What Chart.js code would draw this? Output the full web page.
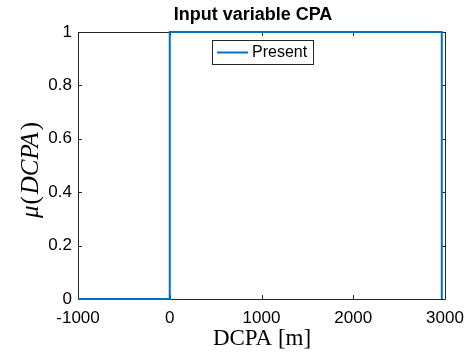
<!DOCTYPE html>
<html>
<head>
<meta charset="utf-8">
<script src="https://cdn.jsdelivr.net/npm/chart.js@4/dist/chart.umd.min.js"></script>
<style>
  html, body { margin: 0; padding: 0; background: #fff; }
  #wrap { width: 474px; height: 359px; }
</style>
</head>
<body>
<div id="wrap"><canvas id="chart" width="474" height="359"></canvas></div>
<script>
// membership function "Present" for DCPA
var dcpa = [-1000, 0, 0, 2965, 2965];
var mu = [0, 0, 1, 1, 0];
var xTicks = [-1000, 0, 1000, 2000, 3000];
var yTicks = [0, 0.2, 0.4, 0.6, 0.8, 1];
var seriesName = 'Present';
var titleText = 'Input variable CPA';
var lineColor = '#0072BD';

var points = [];
for (var i = 0; i < dcpa.length; i++) {
  points.push({ x: dcpa[i], y: mu[i] });
}

var serif = '"Liberation Serif", "DejaVu Serif", serif';
var sans = '"Liberation Sans", Arial, sans-serif';

// MATLAB style box + inward ticks, drawn under the line
var matlabAxes = {
  id: 'matlabAxes',
  beforeDatasetsDraw: function (chart) {
    var ctx = chart.ctx;
    var a = chart.chartArea;
    var xs = chart.scales.x, ys = chart.scales.y;
    ctx.save();
    ctx.strokeStyle = '#262626';
    ctx.lineWidth = 1;
    ctx.beginPath();
    ctx.rect(Math.round(a.left) + 0.5, Math.round(a.top) + 0.5,
             Math.round(a.right - a.left), Math.round(a.bottom - a.top));
    ctx.stroke();
    ctx.beginPath();
    xTicks.forEach(function (v) {
      var px = Math.round(xs.getPixelForValue(v)) + 0.5;
      ctx.moveTo(px, a.bottom); ctx.lineTo(px, a.bottom - 4);
      ctx.moveTo(px, a.top); ctx.lineTo(px, a.top + 4);
    });
    yTicks.forEach(function (v) {
      var py = Math.round(ys.getPixelForValue(v)) + 0.5;
      ctx.moveTo(a.left, py); ctx.lineTo(a.left + 4, py);
      ctx.moveTo(a.right, py); ctx.lineTo(a.right - 4, py);
    });
    ctx.stroke();
    ctx.restore();
  },
  afterDraw: function (chart) {
    var ctx = chart.ctx;
    ctx.save();
    // title
    ctx.fillStyle = '#000';
    ctx.font = 'bold 18px ' + sans;
    ctx.textAlign = 'center';
    ctx.textBaseline = 'alphabetic';
    ctx.fillText(titleText, 253, 20);

    // legend
    var lx = 212, ly = 40, lw = 101, lh = 24;
    ctx.fillStyle = '#fff';
    ctx.fillRect(lx, ly, lw, lh);
    ctx.strokeStyle = '#262626';
    ctx.lineWidth = 1;
    ctx.strokeRect(lx + 0.5, ly + 0.5, lw, lh);
    ctx.strokeStyle = lineColor;
    ctx.lineWidth = 2;
    ctx.beginPath();
    ctx.moveTo(lx + 5, ly + 12.5); ctx.lineTo(lx + 36, ly + 12.5);
    ctx.stroke();
    ctx.fillStyle = '#000';
    ctx.font = '16px ' + sans;
    ctx.textBaseline = 'middle';
    ctx.textAlign = 'left';
    ctx.fillText(seriesName, lx + 40, ly + 13);

    // x label
    ctx.font = '23px ' + serif;
    ctx.textAlign = 'center';
    ctx.fillText('DCPA [m]', 262, 339);

    // y label: mu(DCPA), math italic
    ctx.translate(31, 170);
    ctx.rotate(-Math.PI / 2);
    var parts = [
      ['μ', 'italic 25px ' + serif, 1],
      ['(', '25px ' + serif, 2],
      ['DCPA', 'italic 25px ' + serif, 2],
      [')', '25px ' + serif, 0]
    ];
    var total = 0;
    parts.forEach(function (p) { ctx.font = p[1]; total += ctx.measureText(p[0]).width + p[2]; });
    var cx = -total / 2;
    ctx.textAlign = 'left';
    parts.forEach(function (p) {
      ctx.font = p[1];
      ctx.fillText(p[0], cx, 0);
      cx += ctx.measureText(p[0]).width + p[2];
    });
    ctx.restore();
  }
};

var ctx = document.getElementById('chart').getContext('2d');
var chart = new Chart(ctx, {
  type: 'line',
  data: {
    datasets: [{
      label: seriesName,
      data: points,
      borderColor: lineColor,
      borderWidth: 2,
      pointRadius: 0,
      fill: false,
      tension: 0,
      clip: 2
    }]
  },
  options: {
    responsive: false,
    animation: false,
    layout: { padding: { left: 0, right: 29, top: 32, bottom: 0 } },
    plugins: {
      legend: { display: false },
      tooltip: { enabled: false },
      title: { display: false }
    },
    scales: {
      x: {
        type: 'linear',
        min: -1000,
        max: 3000,
        afterBuildTicks: function (s) { s.ticks = xTicks.map(function (v) { return { value: v }; }); },
        afterFit: function (s) { s.height = 60; },
        grid: { display: false, drawTicks: false },
        border: { display: false },
        ticks: {
          color: '#000',
          padding: 9,
          maxRotation: 0,
          font: { family: sans, size: 17 },
          callback: function (v) { return String(v); }
        }
      },
      y: {
        type: 'linear',
        min: 0,
        max: 1,
        afterBuildTicks: function (s) { s.ticks = yTicks.map(function (v) { return { value: v }; }); },
        afterFit: function (s) { s.width = 78; },
        grid: { display: false, drawTicks: false },
        border: { display: false },
        ticks: {
          color: '#000',
          padding: 6,
          font: { family: sans, size: 17 },
          callback: function (v) { return String(Math.round(v * 10) / 10); }
        }
      }
    }
  },
  plugins: [matlabAxes]
});
</script>
</body>
</html>
